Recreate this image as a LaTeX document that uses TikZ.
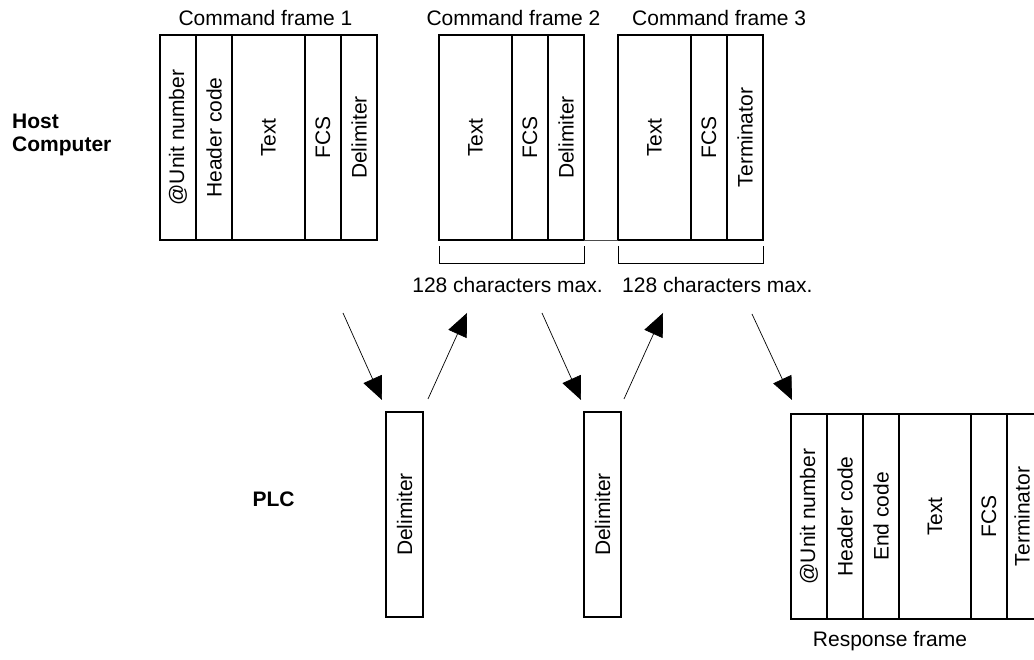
\documentclass[tikz,border=0pt]{standalone}
\usepackage{fontspec}
\setmainfont{Liberation Sans}
\usetikzlibrary{arrows.meta,calc,positioning}

\begin{document}
\begin{tikzpicture}[x=1pt, y=1pt,
                    font=\fontsize{21}{24}\selectfont,
                    cell/.style  ={rectangle, draw=black, line width=1.5pt, minimum height=205pt, inner sep=0, outer sep=0},
                    narrow/.style={cell, minimum width=36pt},
                    wide/.style  ={cell, minimum width=73pt},
                    lastcell/.style={cell, minimum width=30pt},
                    title/.style ={anchor=base, inner sep=0},
                    side/.style  ={anchor=west, inner sep=0, align=left, font=\fontsize{21}{23}\selectfont\bfseries},
                    msg/.style   ={-{Triangle[length=23pt, width=20pt]}, line width=0.7pt},
                    brace/.style ={-, line width=0.8pt},
                    link/.style  ={-, line width=0.8pt, color=black!70}]

      \useasboundingbox (0,0) rectangle (1034,660);

      % host side
      \node[side] at (12,525) (host) {Host\\Computer};
      \node[side, anchor=base] at (273.5,153) (plc) {PLC};

      % command frame 1
      \node[narrow, anchor=north west] at (160,625) (unit1) {\rotatebox{90}{@Unit number}};
      \node[narrow, right=0pt of unit1] (head1) {\rotatebox{90}{Header code}};
      \node[wide,   right=0pt of head1] (text1) {\rotatebox{90}{Text}};
      \node[narrow, right=0pt of text1] (fcs1)  {\rotatebox{90}{FCS}};
      \node[narrow, right=0pt of fcs1]  (del1)  {\rotatebox{90}{Delimiter}};
      \node[title] at ($(unit1.north west)!0.5!(del1.north east)+(-3,9)$) (cf1) {Command frame 1};

      % command frame 2
      \node[wide,   right=62pt of del1]  (text2) {\rotatebox{90}{Text}};
      \node[narrow, right=0pt of text2]  (fcs2)  {\rotatebox{90}{FCS}};
      \node[narrow, right=0pt of fcs2]   (del2)  {\rotatebox{90}{Delimiter}};
      \node[title] at ($(text2.north west)!0.5!(del2.north east)+(2,9)$) (cf2) {Command frame 2};

      % command frame 3
      \node[wide,   right=34pt of del2]  (text3) {\rotatebox{90}{Text}};
      \node[narrow, right=0pt of text3]  (fcs3)  {\rotatebox{90}{FCS}};
      \node[narrow, right=0pt of fcs3]   (term3) {\rotatebox{90}{Terminator}};
      \node[title, anchor=base west] at ($(text3.north west)+(14,9)$) (cf3) {Command frame 3};

      \draw[link] (del2.south east) -- (text3.south west);

      % length brackets
      \draw[brace] ($(text2.south west)+(0,-6)$) -- ++(0,-17) -| ($(del2.south east)+(0,-6)$);
      \draw[brace] ($(text3.south west)+(0,-6)$) -- ++(0,-17) -| ($(term3.south east)+(0,-6)$);
      \node[title] at ($(text2.south west)!0.5!(del2.south east)+(-4,-53)$) (max2) {128 characters max.};
      \node[title, anchor=base west] at ($(text3.south west)+(4,-53)$) (max3) {128 characters max.};

      % PLC delimiters
      \node[cell, minimum width=37pt, anchor=north west] at (386,248) (pdel1) {\rotatebox{90}{Delimiter}};
      \node[cell, minimum width=37pt, anchor=north west] at (584,248) (pdel2) {\rotatebox{90}{Delimiter}};

      % response frame
      \node[narrow, anchor=north west] at (791,246) (unitr) {\rotatebox{90}{@Unit number}};
      \node[narrow, right=0pt of unitr] (headr) {\rotatebox{90}{Header code}};
      \node[narrow, right=0pt of headr] (endr)  {\rotatebox{90}{End code}};
      \node[wide, minimum width=72pt, right=0pt of endr] (textr) {\rotatebox{90}{Text}};
      \node[narrow, right=0pt of textr] (fcsr)  {\rotatebox{90}{FCS}};
      \node[lastcell, right=0pt of fcsr] (termr) {\rotatebox{90}{Terminator}};
      \node[title] at (890,13) (resp) {Response frame};

      % transfer arrows
      \coordinate (s1) at (343,347);  \coordinate (e1) at (382,260);
      \coordinate (s2) at (428,261);  \coordinate (e2) at (467,347);
      \coordinate (s3) at (542,347);  \coordinate (e3) at (581,260);
      \coordinate (s4) at (624,261);  \coordinate (e4) at (663,347);
      \coordinate (s5) at (752,346);  \coordinate (e5) at (792,260);
      \draw[msg] (s1) -- (e1);
      \draw[msg] (s2) -- (e2);
      \draw[msg] (s3) -- (e3);
      \draw[msg] (s4) -- (e4);
      \draw[msg] (s5) -- (e5);
    \end{tikzpicture}
\end{document}
